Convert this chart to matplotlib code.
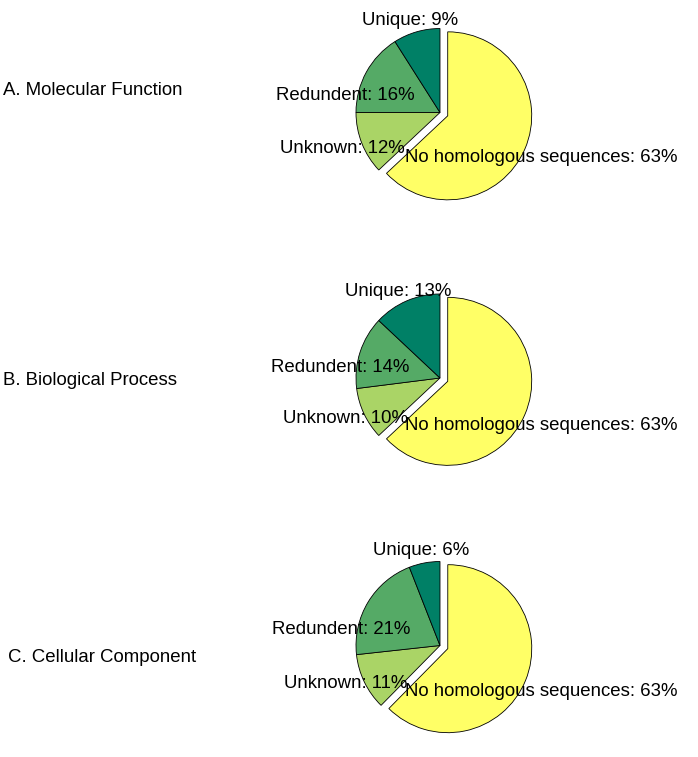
import matplotlib
matplotlib.use("Agg")
import matplotlib.pyplot as plt

plt.rcParams["font.family"] = ["Liberation Sans", "DejaVu Sans"]

# data
names = ["No homologous sequences", "Unknown", "Redundent", "Unique"]
titles = ["A. Molecular Function", "B. Biological Process", "C. Cellular Component"]
mf_vals = [63, 12, 16, 9]
bp_vals = [63, 10, 14, 13]
cc_vals = [63, 11, 21, 6]
# matlab "summer" colormap, 4 levels
colors = ["#FFFF66", "#AAD466", "#55AA66", "#008066"]

W, H = 698, 757
fig = plt.figure(figsize=(W / 100, H / 100), dpi=100)

R = 84.0  # pie radius in px
centers = [(440, 112.5), (440, 378), (440, 645.5)]
title_pos = [(3, 95), (3, 385), (8, 661.5)]  # left x, baseline y (px from top)
# label centre x / baseline y (px from top), as placed in the original figure
label_pos = [
    [(541.5, 162.5), (342.5, 153), (345, 100), (410.5, 25)],
    [(541, 430), (345, 422.5), (340, 371.5), (398.5, 296)],
    [(541, 695.5), (346, 688.5), (341.5, 633.5), (421.5, 555)],
]

for k, vals in enumerate([mf_vals, bp_vals, cc_vals]):
    cx, cy = centers[k]
    hw, hh = 3.0 * R, 1.5 * R
    ax = fig.add_axes([(cx - hw) / W, (H - cy - hh) / H, 2 * hw / W, 2 * hh / H])
    labels = ["%s: %d%%" % (n, v) for n, v in zip(names, vals)]
    wedges, texts = ax.pie(vals, labels=labels, colors=colors, explode=[0.1, 0, 0, 0],
                           startangle=90, counterclock=False, labeldistance=1.2,
                           wedgeprops=dict(edgecolor="black", linewidth=0.6),
                           textprops=dict(fontsize=13.4, color="black"))
    for t, (px, py) in zip(texts, label_pos[k]):
        t.set_position(((px - cx) / R, (cy - py) / R))
        t.set_ha("center")
        t.set_va("baseline")
    ax.set_xlim(-3, 3)
    ax.set_ylim(-1.5, 1.5)
    ax.set_aspect("equal")
    ax.axis("off")
    tx, ty = title_pos[k]
    fig.text(tx / W, 1 - ty / H, titles[k], ha="left", va="baseline", fontsize=13.4)

plt.savefig("out.png", dpi=100)
